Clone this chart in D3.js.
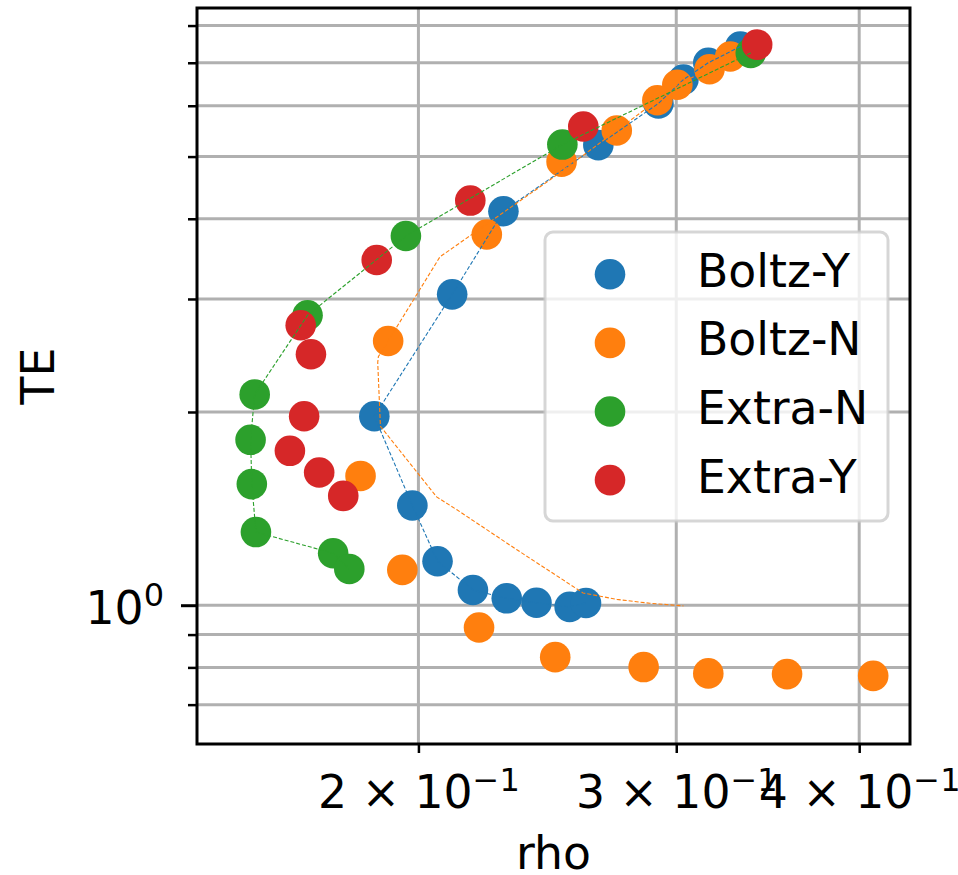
<!DOCTYPE html>
<html>
<head>
<meta charset="utf-8">
<script src="https://cdn.jsdelivr.net/npm/d3@7"></script>
<style>
  body { margin: 0; background: #fff; }
  svg { display: block; }
  text { font-family: "DejaVu Sans", sans-serif; }
</style>
</head>
<body>
<svg id="chart" width="958" height="875"></svg>
<script>
// ---- data ----
const seriesNames = ["Boltz-Y", "Boltz-N", "Extra-N", "Extra-Y"];
const seriesColors = ["#1f77b4", "#ff7f0e", "#2ca02c", "#d62728"];

const boltzYRho = [0.3318, 0.3155, 0.3034, 0.2917, 0.2654, 0.2286, 0.2109, 0.1866, 0.1981, 0.2061, 0.2179, 0.2298, 0.2408, 0.2537, 0.2603];
const boltzYTE  = [7.42, 7.00, 6.59, 6.05, 5.21, 4.11, 3.05, 1.97, 1.43, 1.171, 1.056, 1.025, 1.009, 0.994, 1.008];

const boltzNRho = [0.3266, 0.3161, 0.3005, 0.2912, 0.2732, 0.2505, 0.2227, 0.1907, 0.1826, 0.1950, 0.2200, 0.2480, 0.2850, 0.3155, 0.3571, 0.4089];
const boltzNTE  = [7.16, 6.84, 6.47, 6.12, 5.49, 4.91, 3.78, 2.58, 1.59, 1.135, 0.923, 0.830, 0.801, 0.783, 0.781, 0.776];

// dashed trace for Boltz-N
const boltzNLineRho = [0.3266, 0.3161, 0.3005, 0.2912, 0.2732, 0.2460, 0.2069, 0.1907, 0.1878, 0.1876, 0.1884, 0.2058, 0.2125, 0.2335, 0.2591, 0.2733, 0.2878, 0.3034];
const boltzNLineTE  = [7.16, 6.84, 6.47, 6.12, 5.49, 4.60, 3.49, 2.58, 2.44, 2.39, 1.90, 1.475, 1.408, 1.22, 1.045, 1.021, 1.007, 0.9975];

const extraNRho = [0.3373, 0.2508, 0.1961, 0.1680, 0.1546, 0.1536, 0.1539, 0.1549, 0.1749, 0.1794];
const extraNTE  = [7.25, 5.22, 3.76, 2.83, 2.13, 1.81, 1.544, 1.300, 1.205, 1.139];

const extraYRho = [0.3407, 0.2592, 0.2170, 0.1873, 0.1662, 0.1689, 0.1671, 0.1634, 0.1711, 0.1777];
const extraYTE  = [7.47, 5.57, 4.27, 3.45, 2.73, 2.46, 1.97, 1.74, 1.61, 1.48];

const xLimits = [0.14119, 0.43327];
const yLimits = [0.6078, 8.52];
const xTickValues = [0.2, 0.3, 0.4];
const xTickMantissas = ["2", "3", "4"];
const yMajorTicks = [1];
const yMinorTicks = [0.7, 0.8, 0.9, 2, 3, 4, 5, 6, 7, 8];

// ---- layout ----
const frame = { left: 197, top: 8, right: 910, bottom: 744 };
const fontSize = 45.7, supSize = 32, supRise = 17.5;
const markerR = 15.3;

const svg = d3.select("#chart");
const x = d3.scaleLog().domain(xLimits).range([frame.left, frame.right]);
const y = d3.scaleLog().domain(yLimits).range([frame.bottom, frame.top]);

const pts = (xs, ys) => xs.map((v, i) => [v, ys[i]]);
const scatterSeries = [
  pts(boltzYRho, boltzYTE),
  pts(boltzNRho, boltzNTE),
  pts(extraNRho, extraNTE),
  pts(extraYRho, extraYTE)
];
const lineSeries = [
  { data: pts(boltzYRho, boltzYTE), color: seriesColors[0] },
  { data: pts(boltzNLineRho, boltzNLineTE), color: seriesColors[1] },
  { data: pts(extraNRho, extraNTE), color: seriesColors[2] }
];

svg.append("defs").append("clipPath").attr("id", "plotClip")
  .append("rect")
  .attr("x", frame.left).attr("y", frame.top)
  .attr("width", frame.right - frame.left).attr("height", frame.bottom - frame.top);

// grid
const gridColor = "#b0b0b0";
const grid = svg.append("g");
grid.selectAll("line.gx").data(xTickValues).join("line")
  .attr("class", "gx")
  .attr("x1", d => x(d)).attr("x2", d => x(d))
  .attr("y1", frame.top).attr("y2", frame.bottom)
  .attr("stroke", gridColor).attr("stroke-width", 3);
grid.selectAll("line.gy").data(yMinorTicks.concat(yMajorTicks)).join("line")
  .attr("class", "gy")
  .attr("x1", frame.left).attr("x2", frame.right)
  .attr("y1", d => y(d)).attr("y2", d => y(d))
  .attr("stroke", gridColor).attr("stroke-width", 3);

// scatter points
const plot = svg.append("g").attr("clip-path", "url(#plotClip)");
scatterSeries.forEach((s, i) => {
  plot.append("g").selectAll("circle").data(s).join("circle")
    .attr("cx", d => x(d[0])).attr("cy", d => y(d[1]))
    .attr("r", markerR).attr("fill", seriesColors[i]);
});

// dashed connecting lines (drawn above markers)
const lineGen = d3.line().x(d => x(d[0])).y(d => y(d[1]));
lineSeries.forEach(l => {
  plot.append("path").datum(l.data)
    .attr("d", lineGen)
    .attr("fill", "none").attr("stroke", l.color)
    .attr("stroke-width", 1.1).attr("stroke-dasharray", "4,2");
});

// frame
svg.append("rect")
  .attr("x", frame.left).attr("y", frame.top)
  .attr("width", frame.right - frame.left).attr("height", frame.bottom - frame.top)
  .attr("fill", "none").attr("stroke", "#000").attr("stroke-width", 3);

// x axis
const xAxisG = svg.append("g")
  .attr("transform", `translate(0,${frame.bottom})`)
  .call(d3.axisBottom(x).tickValues(xTickValues).tickSize(9).tickFormat(""));
xAxisG.select(".domain").remove();
xAxisG.selectAll(".tick line").attr("stroke", "#000").attr("stroke-width", 2.5);
xAxisG.selectAll(".tick text").each(function (d, i) {
  const t = d3.select(this)
    .attr("y", 64).attr("dy", null)
    .attr("fill", "#000").attr("font-size", fontSize)
    .attr("text-anchor", "middle");
  t.text(null);
  t.append("tspan").text(xTickMantissas[i] + " \u00d7 10");
  t.append("tspan").attr("dy", -supRise).attr("font-size", supSize).text("\u22121");
});

// y axis: minor ticks
const yMinorG = svg.append("g")
  .attr("transform", `translate(${frame.left},0)`)
  .call(d3.axisLeft(y).tickValues(yMinorTicks).tickSize(9).tickFormat(""));
yMinorG.select(".domain").remove();
yMinorG.selectAll(".tick line").attr("stroke", "#000").attr("stroke-width", 2.5);
yMinorG.selectAll(".tick text").remove();

// y axis: major ticks
const yMajorG = svg.append("g")
  .attr("transform", `translate(${frame.left},0)`)
  .call(d3.axisLeft(y).tickValues(yMajorTicks).tickSize(16).tickPadding(17).tickFormat(""));
yMajorG.select(".domain").remove();
yMajorG.selectAll(".tick line").attr("stroke", "#000").attr("stroke-width", 3);
yMajorG.selectAll(".tick text").each(function (d) {
  const t = d3.select(this)
    .attr("y", 18).attr("dy", null)
    .attr("fill", "#000").attr("font-size", fontSize)
    .attr("text-anchor", "end");
  t.text(null);
  t.append("tspan").text("10");
  t.append("tspan").attr("dy", -supRise).attr("font-size", supSize).text(String(Math.round(Math.log10(d))));
});

// axis titles
svg.append("text")
  .attr("x", (frame.left + frame.right) / 2).attr("y", 869)
  .attr("text-anchor", "middle").attr("font-size", fontSize)
  .text("rho");
svg.append("text")
  .attr("transform", `translate(54,${(frame.top + frame.bottom) / 2}) rotate(-90)`)
  .attr("text-anchor", "middle").attr("font-size", fontSize)
  .text("TE");

// legend
const legend = svg.append("g");
legend.append("rect")
  .attr("x", 545).attr("y", 232).attr("width", 343).attr("height", 289)
  .attr("rx", 8).attr("ry", 8)
  .attr("fill", "#fff").attr("fill-opacity", 0.8)
  .attr("stroke", "#cccccc").attr("stroke-opacity", 0.8).attr("stroke-width", 3);
const entryGap = 68.6, firstY = 274.3;
seriesNames.forEach((name, i) => {
  const cy = firstY + i * entryGap;
  legend.append("circle").attr("cx", 610).attr("cy", cy).attr("r", markerR).attr("fill", seriesColors[i]);
  legend.append("text").attr("x", 697).attr("y", cy + 12.4)
    .attr("font-size", fontSize).attr("fill", "#000").text(name);
});
</script>
</body>
</html>
